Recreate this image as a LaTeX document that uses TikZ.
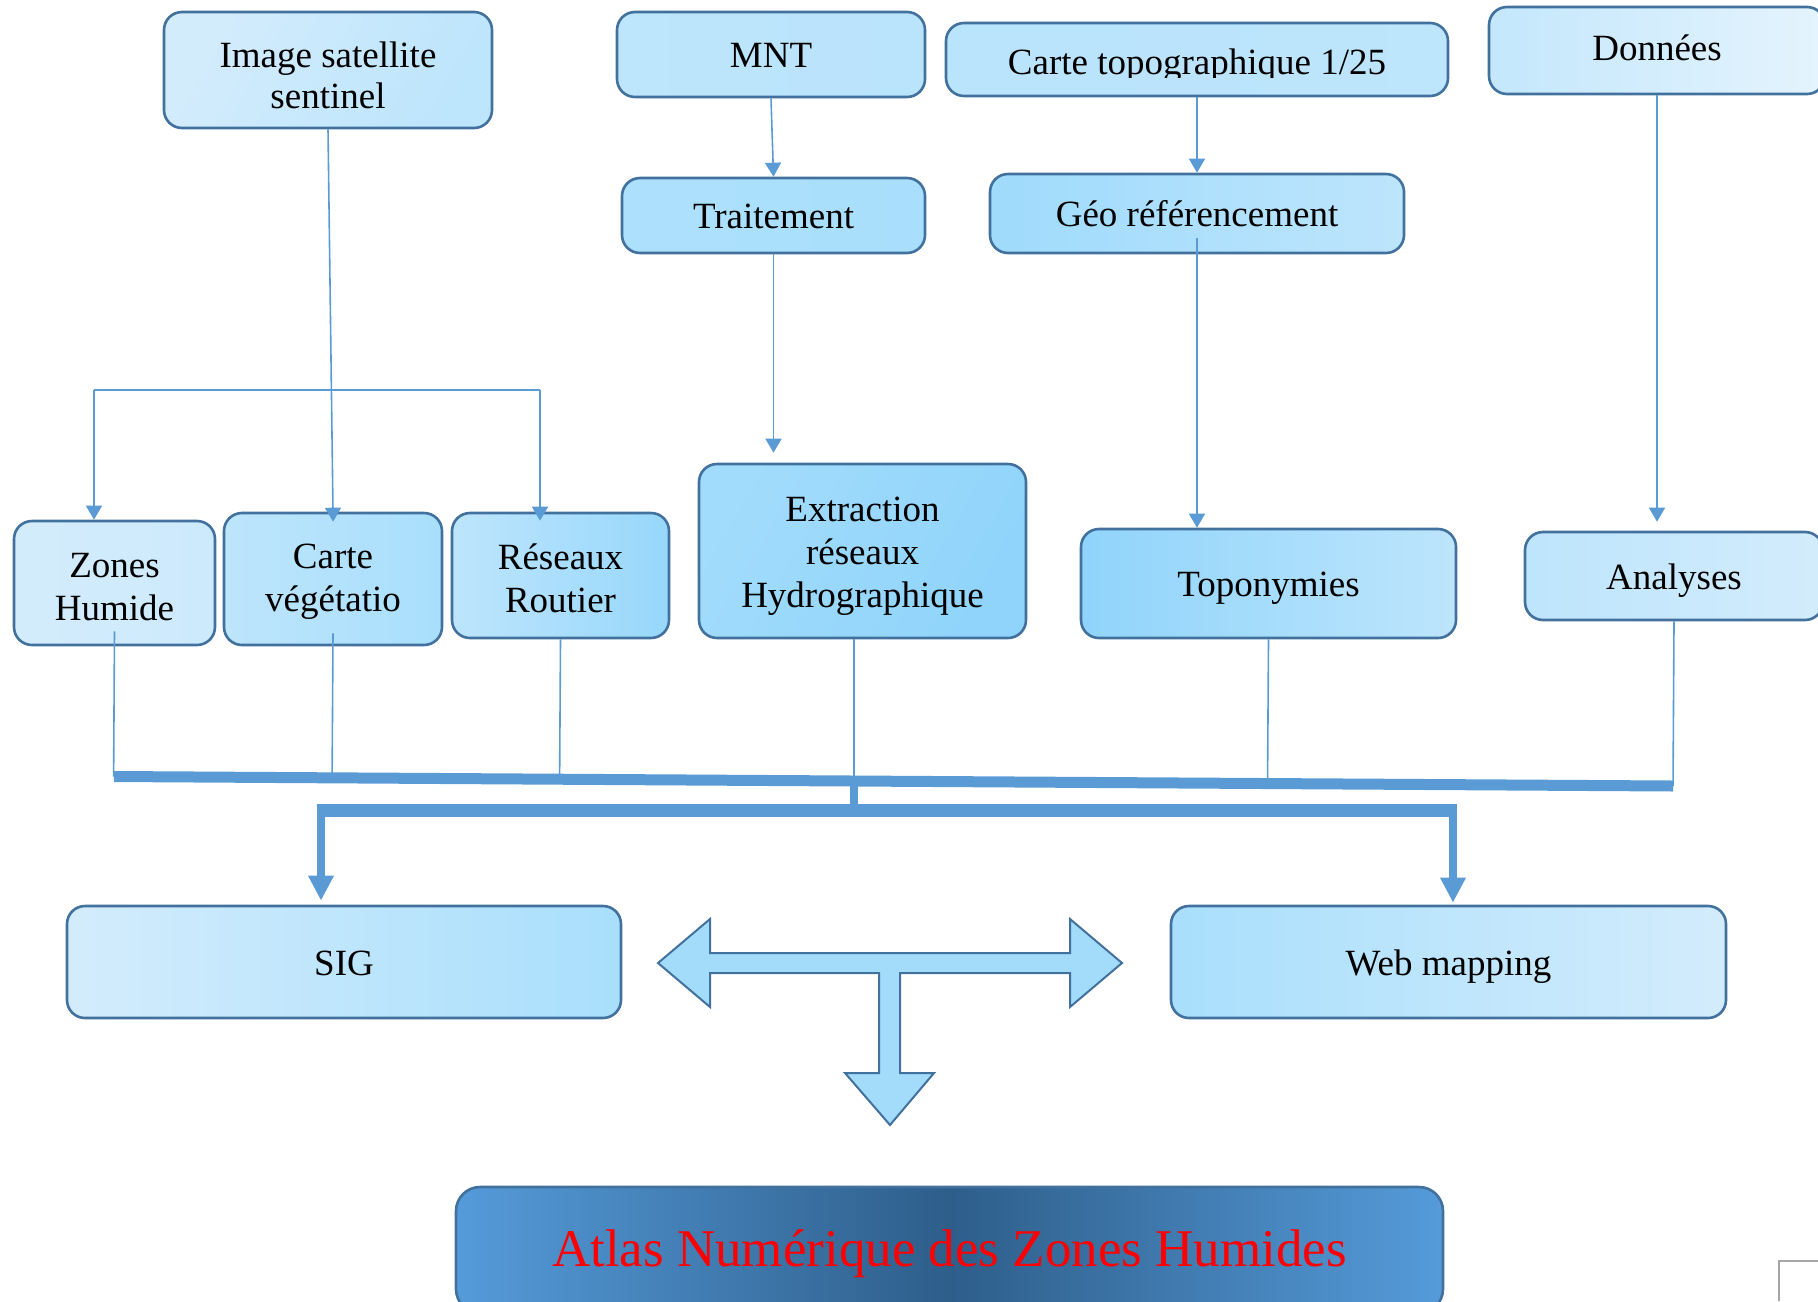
\documentclass[tikz,border=0pt]{standalone}
\usepackage{fontspec}
\setmainfont{Liberation Serif}
\usetikzlibrary{arrows.meta,calc}

\definecolor{edge}{HTML}{41719C}
\definecolor{link}{HTML}{5B9BD5}
\definecolor{pale}{HTML}{D3ECFC}
\definecolor{lite}{HTML}{BDE5FC}
\definecolor{mid}{HTML}{A9DFFC}
\definecolor{deep}{HTML}{90D4FB}
\definecolor{tfill}{HTML}{A3DBFB}
\definecolor{atlasmid}{HTML}{2E5E8A}
\definecolor{atlasside}{HTML}{559BDA}

% struts that fix the height of the first line and the depth of the last line
\newcommand\firstline{\rule{0pt}{20pt}}
\newcommand\lastline[1]{\rule[-#1]{0pt}{#1}}

\begin{document}
\begin{tikzpicture}[x=0.5pt,y=-0.5pt,
  box/.style={draw=edge, line width=1.3pt, rounded corners=9pt, inner sep=0pt,
    align=center, font=\fontsize{18.5}{21.5}\selectfont,
    execute at begin node={\rule{0pt}{17.5pt}},
    execute at end node={\rule[-4.5pt]{0pt}{4.5pt}}},
  sz/.style 2 args={minimum width=#1*0.5pt, minimum height=#2*0.5pt},
  grad/.style 2 args={left color=#1, right color=#2},
  txt/.style={inner sep=0pt, font=\fontsize{18.5}{21.5}\selectfont},
  conn/.style={draw=link, line width=0.8pt},
  tip/.style={-{Triangle[length=7pt,width=8pt]}},
  bus/.style={draw=link, line width=5.5pt},
  bigtip/.style={-{Triangle[length=12.5pt,width=12pt]}},
]
\useasboundingbox (0,0) rectangle (1818,1301);
\clip (0,0) rectangle (1818,1301);

% --- sources (top row)
\node[box, sz={328}{116}, grad={pale}{lite}, shading angle=60] (sat) at (328,70) {};
\node[txt, anchor=base] (sat1) at (328,67) {Image satellite};
\node[txt, anchor=base] (sat2) at (328,108) {sentinel};

\node[box, sz={308}{85}, grad={lite}{lite!85!mid}] (mnt) at (771,54.5) {MNT};
\node[box, sz={303}{75}, grad={mid!80!lite}{mid}] (trait) at (773.5,215.5) {Traitement};

\node[box, sz={502}{73}, grad={lite!80!mid}{lite}] (topo) at (1197,59.5) {};
\begin{scope}
  \clip (946,23) rectangle (1448,77);
  \node[txt, anchor=base] (topo-t) at (1197,74) {Carte topographique 1/25};
\end{scope}
\node[box, sz={414}{79}, grad={mid!60!deep}{lite}] (geo) at (1197,213.5) {Géo référencement};

\node[box, sz={336}{87}, grad={lite!70!pale}{pale!60!white}] (don) at (1657,50.5) {};
\node[txt, anchor=base] (don-t) at (1657,60) {Données};

% --- thematic layers
\node[box, sz={201}{124}, grad={pale}{pale!70!lite}] (zones) at (114.5,583) {\firstline Zones\\Humide};
\node[box, sz={218}{132}, grad={lite}{mid}] (veg) at (333,579) {\firstline Carte\\végétatio\lastline{9pt}};
\node[box, sz={217}{125}, grad={lite}{deep!70!mid}] (res) at (560.5,575.5) {\firstline Réseaux\\Routier};
\node[box, sz={327}{174}, grad={mid!70!deep}{deep}, shading angle=60] (ext) at (862.5,551) {\firstline Extraction\\réseaux\\Hydrographique\lastline{6.8pt}};
\node[box, sz={375}{109}, grad={deep}{lite}] (topon) at (1268.5,583.5) {Toponymies};
\node[box, sz={298}{88}, grad={lite}{pale}] (ana) at (1674,576) {Analyses};

% --- outputs
\node[box, sz={554}{112}, grad={pale}{mid}] (sig) at (344,962) {SIG};
\node[box, sz={555}{112}, grad={mid}{pale}] (web) at (1448.5,962) {Web mapping};

\node[draw=edge, line width=1.3pt, rounded corners=12pt, inner sep=0pt,
  minimum width=987*0.5pt, minimum height=126*0.5pt,
  text height=20pt, text depth=3.9pt,
  left color=atlasside, right color=atlasside, middle color=atlasmid,
  text=red, font=\fontsize{26.5}{30}\selectfont] (atlas) at (949.5,1250)
  {Atlas Numérique des Zones Humides};

% --- links from the satellite image
\coordinate (bl) at (94,390);
\coordinate (br) at (540,390);
\draw[conn, tip, shorten >=-5pt] (sat.south) -- (veg.north);
\draw[conn] (bl) -- (br);
\draw[conn, tip] (bl) -- (bl |- zones.north);
\draw[conn, tip, shorten >=-4.5pt] (br) -- (br |- res.north);

% --- other processing chains
\draw[conn, tip] (mnt.south) -- (trait.north);
\draw[conn, tip, shorten >=5pt] (trait.south) -- (trait.south |- ext.north);
\draw[conn, tip] (topo.south) -- (geo.north);
\draw[conn, tip] ([yshift=8pt]geo.south) -- (geo.south |- topon.north);
\draw[conn, tip, shorten >=4.5pt] (don.south) -- (don.south |- ana.north);

% --- collecting bus
\coordinate (busL) at (114,776.5);
\coordinate (busR) at (1673,786);
\coordinate (hub) at (854,781);
\draw[conn] ([yshift=7.5pt]zones.south) -- ($(busL)!([yshift=7.5pt]zones.south)!(busR)$);
\draw[conn] ([yshift=6.5pt]veg.south) -- ($(busL)!([yshift=6.5pt]veg.south)!(busR)$);
\draw[conn] (res.south) -- ($(busL)!(res.south)!(busR)$);
\draw[conn] (ext.south -| hub) -- (hub);
\draw[conn] (topon.south) -- ($(busL)!(topon.south)!(busR)$);
\draw[conn] (ana.south) -- (busR);
\draw[bus] (busL) -- (busR);

% --- distribution towards SIG and web mapping
\coordinate (hub2) at (854,810.5);
\coordinate (sigc) at (321,810.5);
\coordinate (webc) at (1453,810.5);
\draw[draw=link, line width=4pt] (hub) -- (hub2);
\draw[draw=link, line width=6.5pt] ([xshift=-2pt]sigc) -- ([xshift=2pt]webc);
\draw[draw=link, line width=4pt, bigtip, fill=link, shorten >=2pt] ([yshift=3pt]sigc) -- (sigc |- sig.north);
\draw[draw=link, line width=4pt, bigtip, fill=link, shorten >=1pt] ([yshift=3pt]webc) -- (webc |- web.north);

% --- three-way block arrow
\draw[draw=edge, line width=1pt, fill=tfill, line join=miter]
  (658,963) -- (710,919) -- (710,953) -- (1070,953) -- (1070,919) -- (1122,963)
  -- (1070,1007) -- (1070,973) -- (900,973) -- (900,1073) -- (934,1073)
  -- (890,1125) -- (845,1073) -- (879,1073) -- (879,973) -- (710,973)
  -- (710,1007) -- cycle;

% --- page corner mark
\draw[gray!70, line width=0.8pt] (1818,1261) -- (1779,1261) -- (1779,1301);
\end{tikzpicture}
\end{document}
